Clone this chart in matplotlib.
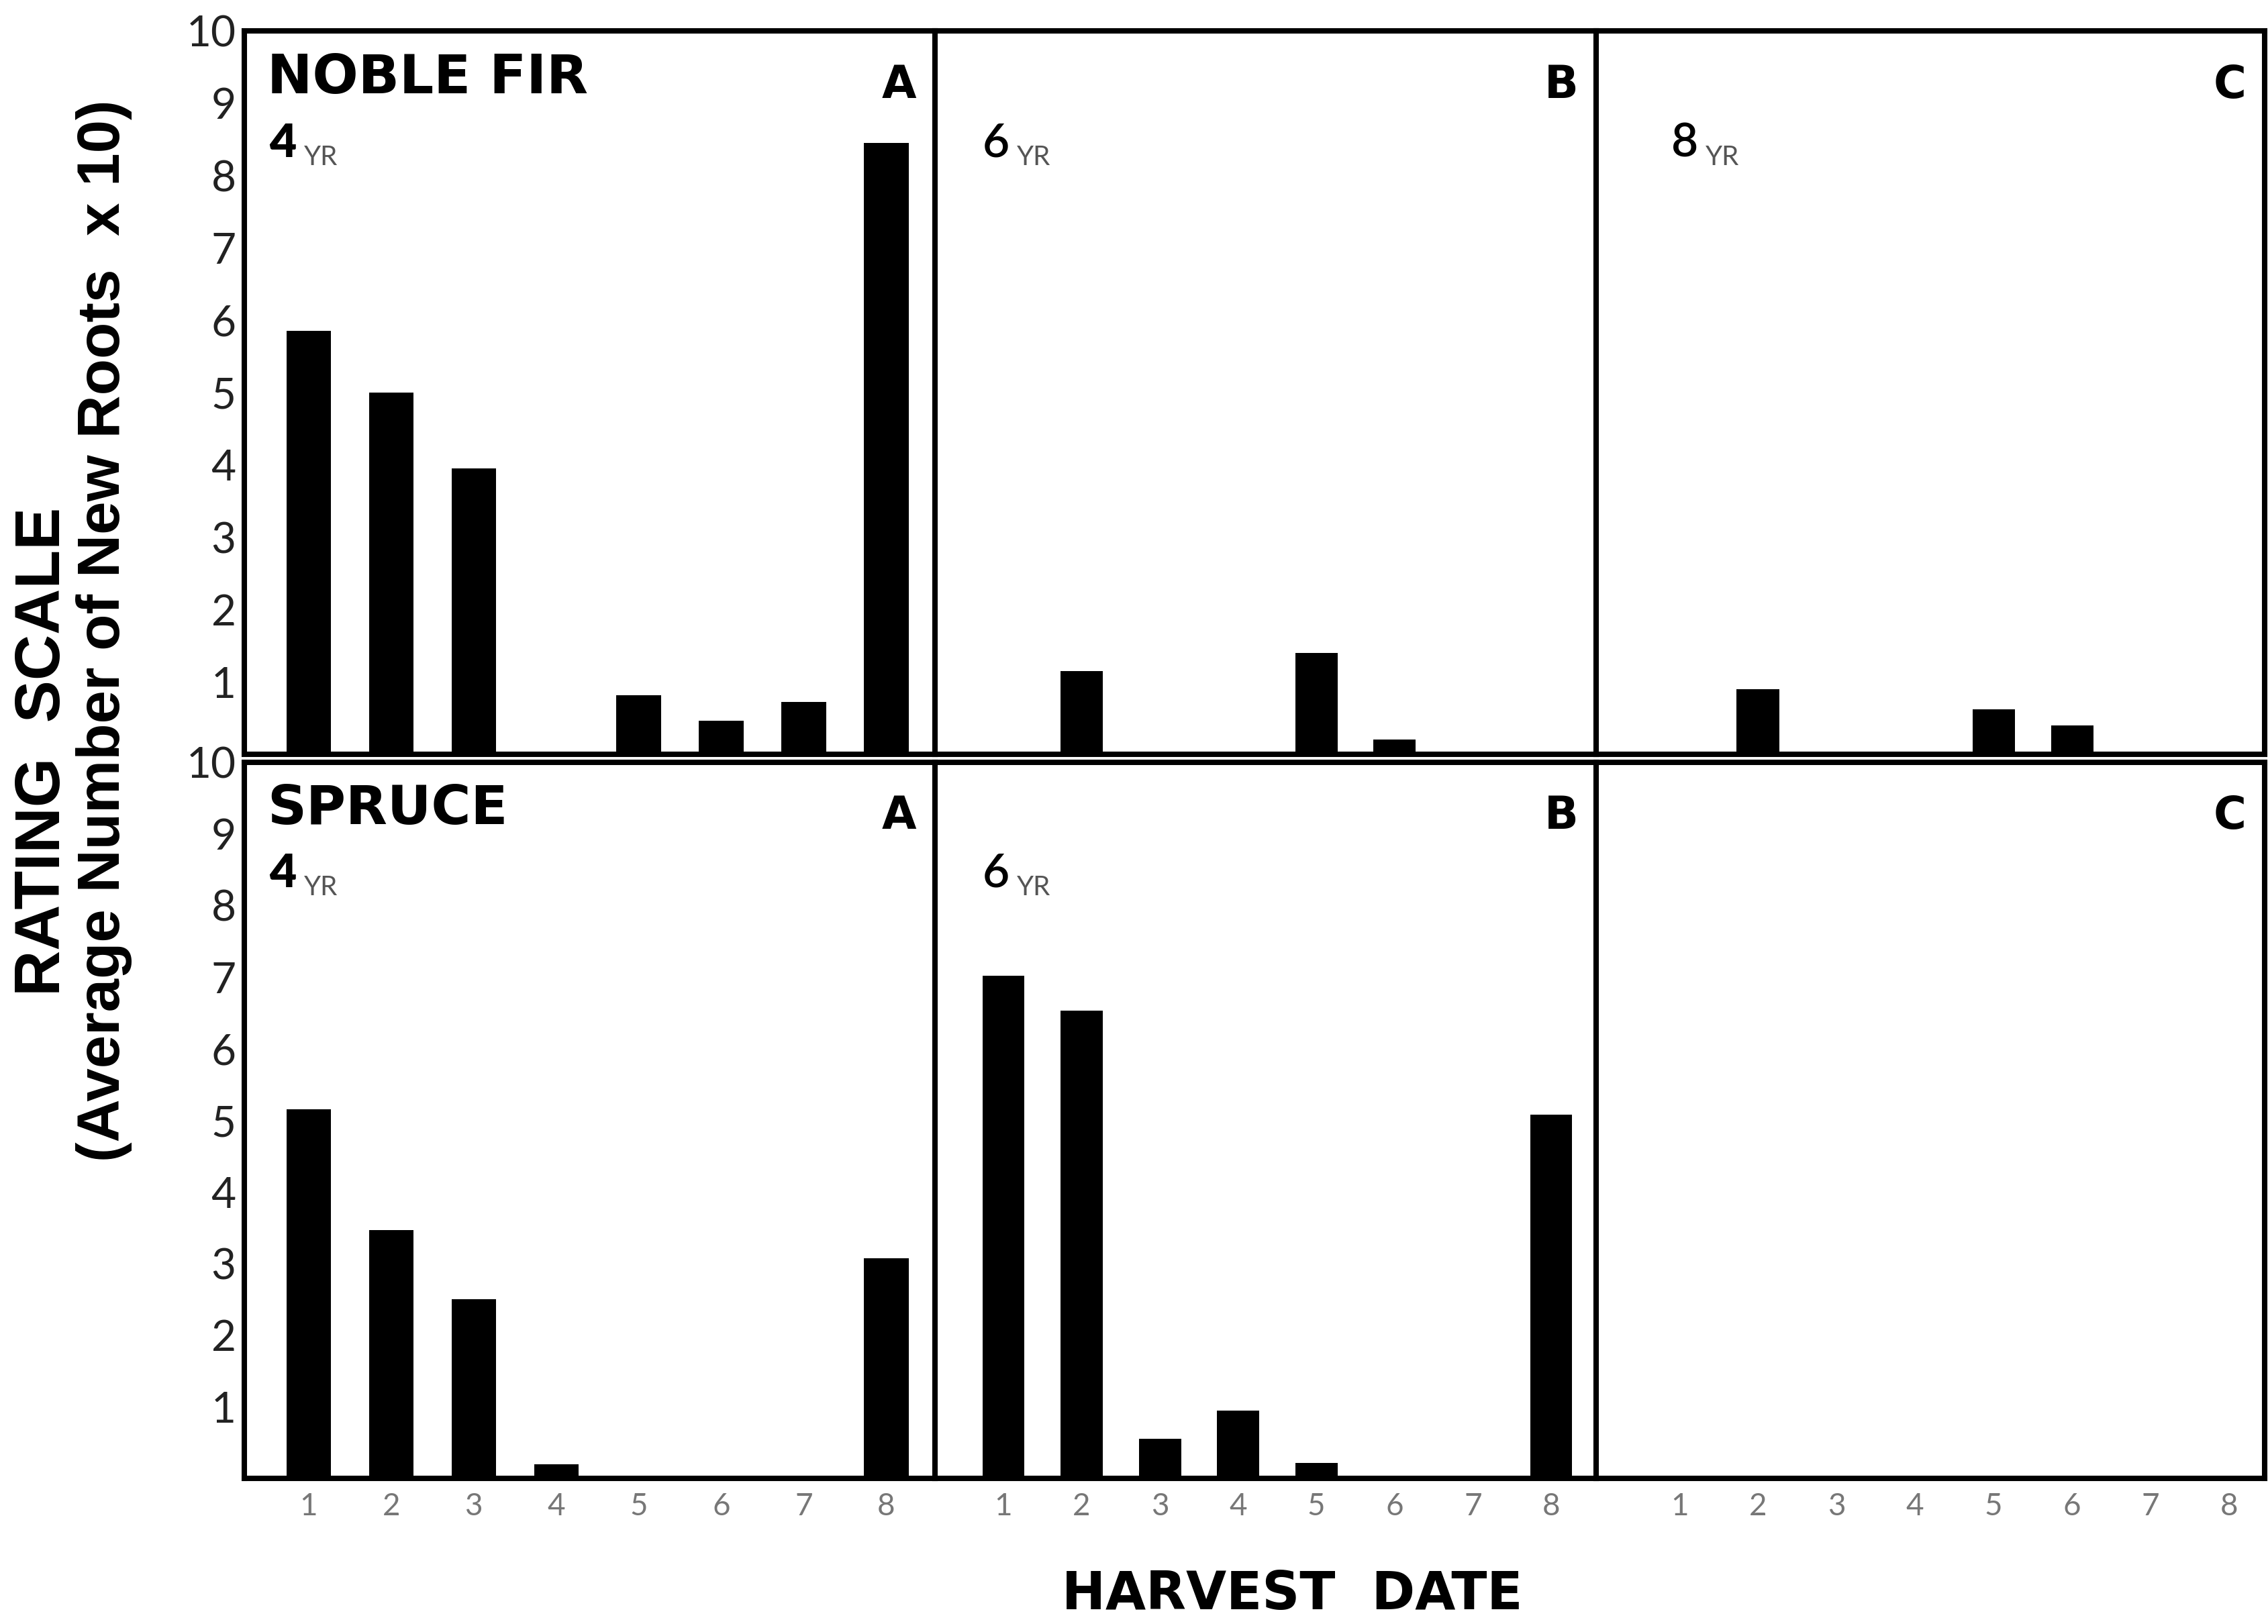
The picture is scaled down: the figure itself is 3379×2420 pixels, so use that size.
import matplotlib.pyplot as plt

# Data (rating scale, average number of new roots x 10)
harvest_dates = [1, 2, 3, 4, 5, 6, 7, 8]
date_labels = ["1", "2", "3", "4", "5", "6", "7", "8"]
noble_fir_4yr = [5.85, 5.0, 3.95, 0, 0.82, 0.46, 0.72, 8.45]
noble_fir_6yr = [0, 1.15, 0, 0, 1.4, 0.2, 0, 0]
noble_fir_8yr = [0, 0.9, 0, 0, 0.62, 0.4, 0, 0]
spruce_4yr = [5.15, 3.47, 2.5, 0.2, 0, 0, 0, 3.07]
spruce_6yr = [7.02, 6.53, 0.55, 0.95, 0.22, 0, 0, 5.08]
spruce_8yr = None  # no spruce data for 8 yr

species = ["NOBLE FIR", "SPRUCE"]
panel_letters = ["A", "B", "C"]
ages = ["4", "6", "8"]
rating_ticks = [1, 2, 3, 4, 5, 6, 7, 8, 9, 10]
rows = [[noble_fir_4yr, noble_fir_6yr, noble_fir_8yr],
        [spruce_4yr, spruce_6yr, spruce_8yr]]

W, H = 3379, 2420
fig = plt.figure(figsize=(W / 100, H / 100), dpi=100)

# panel edges in pixels
col_px = [(364, 1393), (1393, 2378), (2378, 3374)]
row_px = [(46, 1124), (1136, 2203)]
xlims = [(0.22, 8.59), (0.125, 8.575), (-0.06, 8.45)]

bold_font = "DejaVu Sans"
thin_font = "Lato"

for r in range(2):
    for c in range(3):
        x0, x1 = col_px[c]
        y0, y1 = row_px[r]
        ax = fig.add_axes([x0 / W, 1 - y1 / H, (x1 - x0) / W, (y1 - y0) / H])
        vals = rows[r][c]
        if vals is not None:
            ax.bar(harvest_dates, vals, width=0.54, color="black", zorder=2)
        ax.set_xlim(*xlims[c])
        ax.set_ylim(0, 10)
        for s in ax.spines.values():
            s.set_linewidth(5.8)
            s.set_color("black")
        ax.set_yticks(rating_ticks)
        ax.set_xticks(harvest_dates)
        ax.tick_params(length=0)
        if c == 0:
            ax.set_yticklabels([str(t) for t in rating_ticks],
                               fontsize=46, color="#222222",
                               family=thin_font, fontweight="normal")
            ax.tick_params(axis="y", pad=9)
        else:
            ax.set_yticklabels([])
        if r == 1:
            ax.set_xticklabels(date_labels, fontsize=33, color="#777777",
                               family=thin_font, fontweight="normal")
            ax.tick_params(axis="x", pad=15)
        else:
            ax.set_xticklabels([])

        # panel texts
        if c == 0:
            ax.text(0.033, 0.914, species[r], transform=ax.transAxes,
                    fontsize=58, fontweight="bold", family=bold_font,
                    ha="left", va="baseline")
        ax.text(0.973, 0.907, panel_letters[c], transform=ax.transAxes,
                fontsize=48, fontweight="bold", family=bold_font,
                ha="right", va="baseline")
        if vals is not None:
            age_x = [0.036, 0.072, 0.112][c]
            num = ax.text(age_x, 0.826, ages[c], transform=ax.transAxes,
                          fontsize=50, family=thin_font,
                          fontweight="heavy" if c == 0 else "semibold",
                          ha="left", va="baseline")
            ax.annotate("YR", xy=(1, 0), xycoords=num, xytext=(8, 0),
                        textcoords="offset points", fontsize=29,
                        color="#555555", family=thin_font,
                        fontweight="normal", ha="left", va="baseline")

# axis titles
fig.text(65 / W, 1 - 1120 / H, "RATING  SCALE", rotation=90,
         fontsize=68, fontweight="bold", family="Liberation Sans",
         ha="center", va="center")
fig.text(155 / W, 1 - 940 / H, "(Average Number of New Roots  x 10)",
         rotation=90, fontsize=64, fontweight="bold",
         family="Liberation Sans", ha="center", va="center")
fig.text(1925 / W, 1 - 2398 / H, "HARVEST  DATE", fontsize=56,
         fontweight="bold", family=bold_font, ha="center", va="baseline")

fig.savefig("out.png", dpi=100, facecolor="white")
